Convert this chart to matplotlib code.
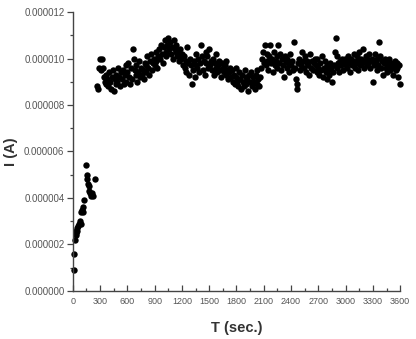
import numpy as np
import matplotlib
matplotlib.use("Agg")
import matplotlib.pyplot as plt
from matplotlib.ticker import MultipleLocator, FuncFormatter

plt.rcParams['font.family'] = ['Liberation Sans', 'DejaVu Sans']

# Early rising phase (time s, current in 1e-6 A)
t_early = [10, 15, 25, 30, 35, 40, 45, 50, 55, 65, 75, 85, 95, 105, 110, 115,
           120, 145, 155, 160, 165, 175, 180, 190, 200, 210, 220, 240]
i_early = [0.9, 1.6, 2.2, 2.4, 2.6, 2.5, 2.7, 2.6, 2.8, 2.9, 3.0, 2.9, 3.4, 3.5,
           3.4, 3.6, 3.9, 5.4, 5.0, 4.8, 4.6, 4.5, 4.3, 4.2, 4.1, 4.2, 4.1, 4.8]

# Steady phase, sampled every 10 s from 270 s to 3600 s (current in 1e-6 A)
i_steady = [
    8.8, 8.7, 9.6, 10.0, 9.5, 10.0, 9.6, 9.2, 9.0, 8.9, 9.3, 9.1, 8.8, 9.4, 9.0, 8.7, 9.2, 9.5, 8.6, 9.1, 9.3, 8.9, 9.0, 9.6, 9.2, 8.8, 9.4, 9.1, 9.5, 8.9,
    9.3, 9.7, 9.0, 9.4, 9.8, 9.2, 8.9, 9.6, 9.1, 10.4, 10.0, 9.5, 9.3, 9.7, 9.0, 9.4, 9.9, 9.2, 9.6, 9.3, 9.5, 9.1, 9.8, 9.4, 9.7, 10.1, 9.6, 9.3, 9.9, 10.2,
    9.5, 9.8, 10.0, 9.7, 9.9, 10.3, 9.6, 10.1, 10.4, 10.0, 10.6, 10.2, 9.8, 10.5, 10.8, 10.3, 10.1, 10.6, 10.9, 10.4, 10.7, 10.2, 10.5, 10.0, 10.8, 10.4, 10.3, 10.6, 10.1, 10.2,
    9.9, 10.4, 10.0, 10.2, 9.7, 10.1, 9.6, 9.9, 9.4, 10.5, 9.8, 9.3, 10.0, 9.7, 8.9, 9.5, 9.9, 9.2, 9.7, 10.2, 9.6, 10.0, 9.4, 9.8, 10.6, 10.1, 9.5, 9.9, 9.3, 10.3,
    9.8, 10.1, 9.6, 10.4, 9.7, 9.9, 9.5, 10.0, 9.3, 9.8, 9.6, 10.2, 9.4, 9.7, 9.9, 9.5, 9.2, 9.8, 9.6, 9.4, 9.7, 9.3, 9.9, 9.5, 9.1, 9.4, 9.6, 9.2, 9.5, 9.0,
    9.3, 8.9, 9.6, 9.2, 9.0, 8.8, 9.4, 9.1, 8.7, 9.3, 9.0, 8.8, 9.5, 9.2, 8.9, 9.1, 8.6, 9.3, 9.0, 9.4, 8.8, 9.2, 9.0, 8.7, 9.3, 9.5, 8.9, 9.1, 8.8, 9.2,
    9.6, 10.0, 10.3, 9.8, 10.6, 9.7, 10.2, 9.9, 9.5, 10.1, 10.6, 9.8, 10.0, 9.4, 10.3, 9.7, 9.9, 10.1, 9.6, 10.6, 9.8, 10.2, 9.5, 10.0, 9.7, 9.2, 10.1, 9.9, 9.6, 10.0,
    9.8, 9.4, 10.2, 9.7, 9.9, 9.5, 10.7, 9.6, 9.1, 8.7, 8.9, 9.8, 10.0, 9.5, 9.7, 10.3, 9.9, 9.6, 10.1, 9.4, 9.8, 9.9, 9.7, 9.3, 10.2, 9.6, 9.9, 9.5, 9.8, 10.0,
    9.7, 9.4, 10.0, 9.6, 9.3, 9.8, 9.5, 10.1, 9.2, 9.6, 9.9, 9.4, 9.1, 9.7, 9.5, 9.3, 9.8, 9.6, 9.0, 9.4, 9.7, 10.3, 10.9, 10.1, 9.6, 9.8, 9.4, 9.9, 9.7, 10.0,
    9.5, 9.8, 10.0, 9.7, 9.9, 9.6, 10.1, 9.8, 9.4, 10.0, 9.7, 9.9, 10.2, 9.6, 9.8, 10.1, 9.9, 9.5, 10.3, 9.7, 10.0, 9.8, 10.4, 9.6, 9.9, 10.1, 9.7, 10.0, 9.8, 10.2,
    9.6, 9.9, 10.0, 9.0, 9.7, 10.2, 9.8, 9.5, 10.0, 9.7, 10.7, 10.1, 9.6, 9.9, 9.3, 9.8, 10.0, 9.6, 9.9, 9.4, 9.7, 10.0, 9.5, 9.8, 9.6, 9.3, 9.7, 9.9, 9.5, 9.8,
    9.6, 9.2, 9.7, 8.9,
]
t_steady = list(range(270, 270 + 10 * len(i_steady), 10))

y_ticks = [0, 2, 4, 6, 8, 10, 12]
x_ticks = [0, 300, 600, 900, 1200, 1500, 1800, 2100, 2400, 2700, 3000, 3300, 3600]

fig = plt.figure(figsize=(4.16, 3.39), dpi=100)
ax = fig.add_axes([0.175, 0.1416, 0.787, 0.823])

ax.plot(t_early + t_steady, i_early + i_steady, 'o', color='black',
        markersize=4.6, markeredgewidth=0, linestyle='none', clip_on=False)

ax.set_xlim(0, 3600)
ax.set_ylim(0, 12)
ax.set_xticks(x_ticks)
ax.set_yticks(y_ticks)
ax.xaxis.set_minor_locator(MultipleLocator(150))
ax.yaxis.set_minor_locator(MultipleLocator(1))
ax.yaxis.set_major_formatter(FuncFormatter(lambda v, p: f"{v * 1e-6:.6f}"))

for s in ['top', 'right']:
    ax.spines[s].set_visible(False)
spine_col = '#444444'
for s in ['left', 'bottom']:
    ax.spines[s].set_color(spine_col)
    ax.spines[s].set_linewidth(1.0)

ax.tick_params(axis='y', which='major', direction='out', length=4, width=0.9,
               colors=spine_col, labelsize=7, labelcolor='#555555', pad=2)
ax.tick_params(axis='y', which='minor', direction='out', length=2, width=0.9, colors=spine_col)
ax.tick_params(axis='x', which='major', direction='in', length=4, width=0.9,
               colors=spine_col, labelsize=6.5, labelcolor='#555555', pad=4)
ax.tick_params(axis='x', which='minor', direction='in', length=2, width=0.9, colors=spine_col)

ax.set_xlabel('T (sec.)', fontsize=10.5, fontweight='bold', color='#333333', labelpad=11)
ax.set_ylabel('I (A)', fontsize=10.5, fontweight='bold', color='#333333')
ax.yaxis.set_label_coords(-0.175 + 2 / (0.787 * 416), 0.5)

fig.savefig('out.png', dpi=100)
